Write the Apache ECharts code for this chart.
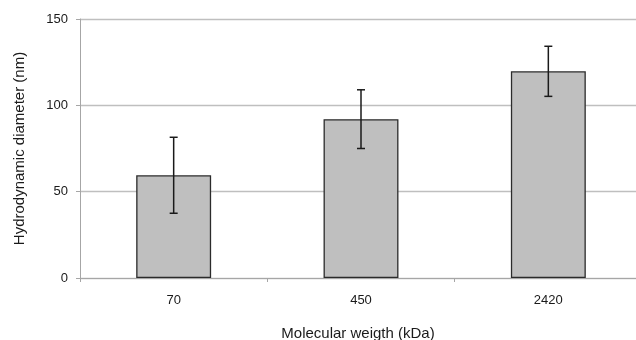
<!DOCTYPE html>
<html>
<head>
<meta charset="utf-8">
<script src="https://cdn.jsdelivr.net/npm/echarts@6/dist/echarts.min.js"></script>
<style>
  html, body { margin: 0; padding: 0; background: #fff; overflow: hidden; }
  /* plot area runs past the right edge of the picture, as in the original */
  #chart { width: 642px; height: 340px; }
</style>
</head>
<body>
<div id="chart"></div>
<script>
const categories = ['70', '450', '2420']
const meanDiameter = [59.5, 92, 119.7]
const errorSize = [22, 17, 14.5]
const yTicks = [0, 50, 100, 150]

const chart = echarts.init(document.getElementById('chart'))

// error bars: [category index, low, high]
const errorData = categories.map((c, i) => [i, meanDiameter[i] - errorSize[i], meanDiameter[i] + errorSize[i]])

function renderErrorBar(params, api) {
  const x = api.coord([api.value(0), api.value(1)])[0]
  const lo = api.coord([api.value(0), api.value(1)])[1]
  const hi = api.coord([api.value(0), api.value(2)])[1]
  const cap = 4
  const style = { stroke: '#1a1a1a', lineWidth: 1.5 }
  return {
    type: 'group',
    children: [
      { type: 'line', shape: { x1: x, y1: lo, x2: x, y2: hi }, style },
      { type: 'line', shape: { x1: x - cap, y1: hi, x2: x + cap, y2: hi }, style },
      { type: 'line', shape: { x1: x - cap, y1: lo, x2: x + cap, y2: lo }, style }
    ]
  }
}

const option = {
  animation: false,
  textStyle: { fontFamily: 'Liberation Sans, Arial, sans-serif' },
  title: {
    text: 'Molecular weigth (kDa)',
    left: 353,
    top: 321,
    textAlign: 'center',
    textStyle: { fontSize: 15, fontWeight: 'normal', color: '#1a1a1a', fontFamily: 'Liberation Sans, Arial, sans-serif' }
  },
  grid: { left: 80, top: 19, right: 0, bottom: 62, containLabel: false },
  xAxis: {
    type: 'category',
    data: categories,
    boundaryGap: true,
    axisLine: { lineStyle: { color: '#a6a6a6', width: 1 } },
    axisTick: { show: true, length: 4, lineStyle: { color: '#a6a6a6' } },
    axisLabel: { color: '#1a1a1a', fontSize: 13, margin: 16 }
  },
  yAxis: {
    type: 'value',
    min: yTicks[0],
    max: yTicks[yTicks.length - 1],
    interval: 50,
    name: 'Hydrodynamic diameter (nm)',
    nameLocation: 'middle',
    nameGap: 53,
    nameTextStyle: { fontSize: 15, color: '#1a1a1a' },
    axisLine: { show: true, lineStyle: { color: '#a6a6a6', width: 1 } },
    axisTick: { show: true, length: 4, lineStyle: { color: '#a6a6a6' } },
    axisLabel: { color: '#1a1a1a', fontSize: 13, margin: 12 },
    splitLine: { lineStyle: { color: '#bfbfbf', width: 1.3 } }
  },
  series: [
    {
      type: 'bar',
      data: meanDiameter,
      barWidth: '40%',
      itemStyle: { color: '#bfbfbf', borderColor: '#2b2b2b', borderWidth: 1.3 }
    },
    {
      type: 'custom',
      renderItem: renderErrorBar,
      data: errorData,
      encode: { x: 0, y: [1, 2] },
      z: 10
    }
  ]
}

chart.setOption(option)
</script>
</body>
</html>
